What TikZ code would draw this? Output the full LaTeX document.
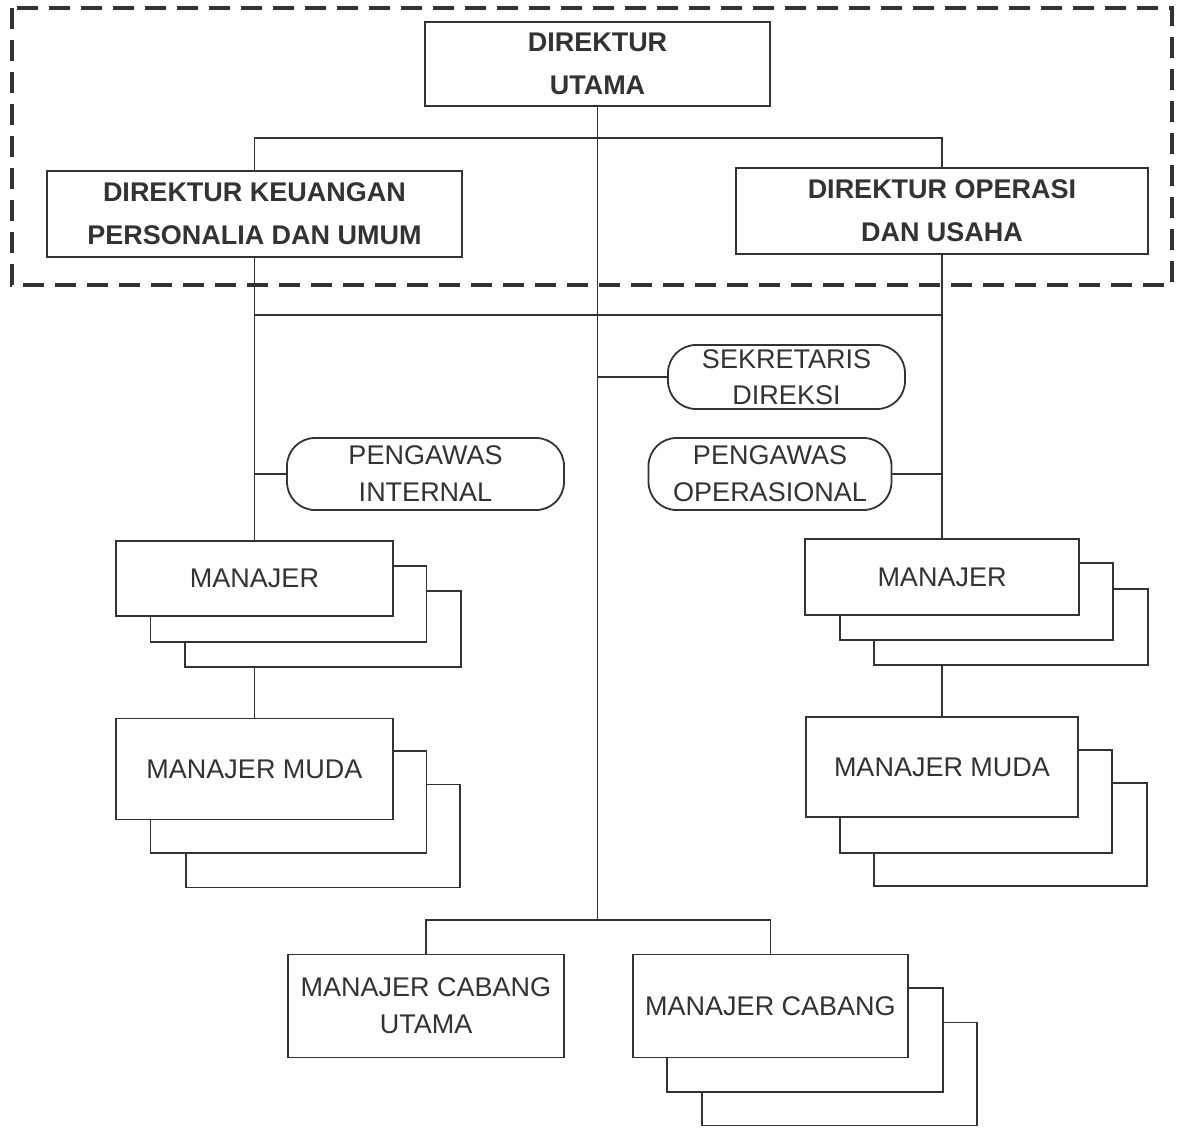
\documentclass[tikz,border=0pt]{standalone}
\usepackage{fontspec}
\setmainfont{Liberation Sans}
\definecolor{ink}{HTML}{333333}
\begin{document}
\begin{tikzpicture}[x=1pt,y=-1pt,
  line width=1.8pt, draw=ink, every node/.style={text=ink},
  box/.style={draw=ink, fill=white, inner sep=0pt, align=center, font=\fontsize{27}{37}\selectfont},
  bbox/.style={box, font=\fontsize{27}{43}\selectfont\bfseries},
  pill/.style={box, rounded corners=28pt},
  conn/.style={draw=ink, line width=1.8pt}]
\useasboundingbox (0,0) rectangle (1182,1127);
% dashed frame
\draw[line width=4pt, dash pattern=on 21pt off 11pt] (12,8) rectangle (1172,285);
% top level
\node[bbox, minimum width=345pt, minimum height=84pt] (dirut) at (597.5,64) {DIREKTUR\\UTAMA};
\node[bbox, minimum width=415pt, minimum height=86pt] (dk) at (254.5,214) {DIREKTUR KEUANGAN\\PERSONALIA DAN UMUM};
\node[bbox, minimum width=412pt, minimum height=86pt] (do) at (942,211) {DIREKTUR OPERASI\\DAN USAHA};
% staff
\node[pill, minimum width=237pt, minimum height=64pt, font=\fontsize{27}{36}\selectfont] (sek) at (786.5,377) {SEKRETARIS\\DIREKSI};
\node[pill, minimum width=277pt, minimum height=72pt] (pi) at (425.5,474) {PENGAWAS\\INTERNAL};
\node[pill, minimum width=243pt, minimum height=72pt] (po) at (770,474) {PENGAWAS\\OPERASIONAL};
% left manajer stack
\node[box, minimum width=276pt, minimum height=76pt] (mL3) at (323,629) {};
\node[box, minimum width=276pt, minimum height=76pt] (mL2) at (288.5,604) {};
\node[box, minimum width=277pt, minimum height=75pt] (mL) at (254.5,578.5) {MANAJER};
% left manajer muda stack
\node[box, minimum width=274pt, minimum height=103pt] (mmL3) at (323,836) {};
\node[box, minimum width=276pt, minimum height=102pt] (mmL2) at (288.5,802) {};
\node[box, minimum width=277pt, minimum height=101pt] (mmL) at (254.5,769) {MANAJER MUDA};
% right manajer stack
\node[box, minimum width=274pt, minimum height=76pt] (mR3) at (1011,627) {};
\node[box, minimum width=273pt, minimum height=77pt] (mR2) at (976.5,601.5) {};
\node[box, minimum width=274pt, minimum height=76pt] (mR) at (942,577) {MANAJER};
% right manajer muda stack
\node[box, minimum width=273pt, minimum height=103pt] (mmR3) at (1010.5,834.5) {};
\node[box, minimum width=272pt, minimum height=103pt] (mmR2) at (976,801.5) {};
\node[box, minimum width=272pt, minimum height=100pt] (mmR) at (942,767) {MANAJER MUDA};
% bottom
\node[box, minimum width=276pt, minimum height=103pt] (mcu) at (426,1006) {MANAJER CABANG\\UTAMA};
\node[box, minimum width=275pt, minimum height=103pt] (mc3) at (839.5,1074) {};
\node[box, minimum width=276pt, minimum height=104pt] (mc2) at (805,1040) {};
\node[box, minimum width=275pt, minimum height=103pt] (mc) at (770.5,1006) {MANAJER CABANG};
% coordinates
\coordinate (t1) at (597.5,138);
\coordinate (t2L) at (254.5,315);
\coordinate (t2R) at (942,315);
\coordinate (cb) at (597.5,920);
% connectors
\draw[conn] (dirut.south) -- (cb);
\draw[conn] (dk.north) |- (t1) -| (do.north);
\draw[conn] (t2L) -- (t2R);
\draw[conn] (dk.south) -- (mL.north);
\draw[conn] (do.south) -- (mR.north);
\draw[conn] (sek.west) -- (sek.west -| dirut.south);
\draw[conn] (pi.west) -- (pi.west -| dk.south);
\draw[conn] (po.east) -- (po.east -| do.south);
\draw[conn] (mL3.south -| mL.south) -- (mmL.north);
\draw[conn] (mR3.south -| mR.south) -- (mmR.north);
\draw[conn] (mcu.north) |- (cb) -| (mc.north);
\end{tikzpicture}
\end{document}
